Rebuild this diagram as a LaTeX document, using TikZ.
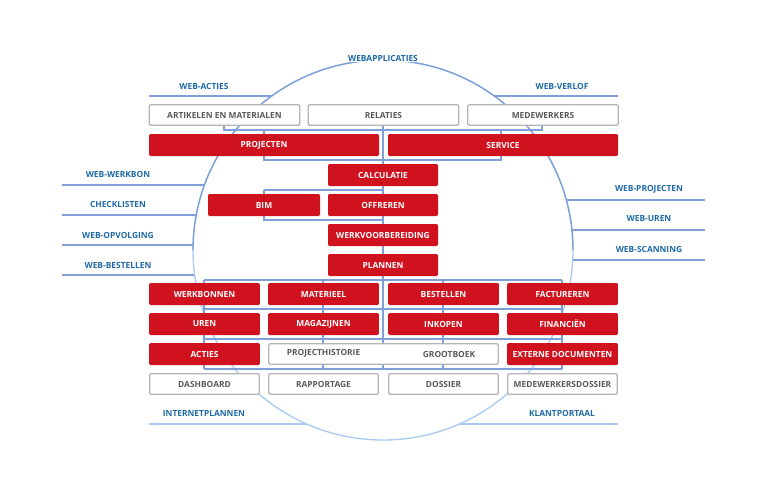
\documentclass[tikz,border=0pt]{standalone}
\usepackage{fontspec}
\setmainfont{Open Sans}
\begin{document}
\definecolor{rd}{HTML}{D0121F}
\definecolor{gb}{HTML}{B5B5B5}
\definecolor{gt}{HTML}{5A5A5A}
\definecolor{bl}{HTML}{1F6AA5}
\definecolor{ln}{HTML}{7F9FD8}
\definecolor{ll}{HTML}{A9CBEF}
\begin{tikzpicture}[x=0.75pt,y=-0.75pt,
  font=\fontsize{6.3}{7}\selectfont\bfseries,
  red/.style={fill=rd,text=white,rounded corners=1pt,minimum height=16.5pt,inner sep=0pt},
  gray/.style={draw=gb,line width=0.9pt,fill=white,text=gt,rounded corners=1pt,minimum height=15.5pt,inner sep=0pt},
  lab/.style={text=bl,inner sep=1pt},
  tree/.style={draw=ln,line width=0.8pt},
  side/.style={draw=ln,line width=0.9pt}]
\useasboundingbox (0,0) rectangle (767,496);
% circle
\draw[ll,line width=1pt] (383,250) circle (190);
\draw[ln,line width=1pt] (193,250) arc (180:360:190);
% side lines
\draw[side] (149,96) -- (272,96);
\draw[side] (494,96) -- (618,96);
\draw[side] (62,185) -- (205,185);
\draw[side] (62,215) -- (196,215);
\draw[side] (62,245) -- (193,245);
\draw[side] (62,275) -- (194,275);
\draw[side] (566,200) -- (705,200);
\draw[side] (571,230) -- (705,230);
\draw[side] (573,260) -- (705,260);
\draw[ll,line width=1pt] (149,424) -- (307,424);
\draw[ll,line width=1pt] (459,424) -- (618,424);
% tree
\draw[tree] (383,126) -- (383,369);
\draw[tree] (224,126) -- (224,130) -- (542,130) -- (542,126);
\draw[tree] (264,130) -- (264,160) -- (501,160) -- (501,130);
\draw[tree] (264,190) -- (383,190);
\draw[tree] (264,190) -- (264,220) -- (383,220);
\foreach \y in {280,309,339,369} \draw[tree] (204,\y) -- (562,\y);
\foreach \x in {204,323,443,562} \draw[tree] (\x,280) -- (\x,369);
% labels
\node[lab,fill=white] (wa) at (383,58) {WEBAPPLICATIES};
\node[lab] (l1) at (204,86) {WEB-ACTIES};
\node[lab] (l2) at (562,86) {WEB-VERLOF};
\node[lab] (l3) at (118,174) {WEB-WERKBON};
\node[lab] (l4) at (118,204) {CHECKLISTEN};
\node[lab] (l5) at (118,235) {WEB-OPVOLGING};
\node[lab] (l6) at (118,265) {WEB-BESTELLEN};
\node[lab] (l7) at (649,189) {WEB-PROJECTEN};
\node[lab] (l8) at (649,219) {WEB-UREN};
\node[lab] (l9) at (649,249) {WEB-SCANNING};
\node[lab] (l10) at (204,413) {INTERNETPLANNEN};
\node[lab] (l11) at (562,413) {KLANTPORTAAL};
% boxes
\node[gray,minimum width=113pt] (am) at (224.5,115) {ARTIKELEN EN MATERIALEN};
\node[gray,minimum width=113pt] (re) at (383.5,115) {RELATIES};
\node[gray,minimum width=113pt] (me) at (543,115) {MEDEWERKERS};
\node[red,minimum width=172.5pt] (pr) at (264,145) {PROJECTEN};
\node[red,minimum width=172.5pt] (se) at (503,145) {SERVICE};
\node[red,minimum width=82.5pt] (ca) at (383,175) {CALCULATIE};
\node[red,minimum width=84pt] (bim) at (264,205) {BIM};
\node[red,minimum width=82.5pt] (of) at (383,205) {OFFREREN};
\node[red,minimum width=82.5pt] (wv) at (383,235) {WERKVOORBEREIDING};
\node[red,minimum width=82.5pt] (pl) at (383,265) {PLANNEN};
\node[red,minimum width=83pt] (wb) at (204.5,294) {WERKBONNEN};
\node[red,minimum width=83pt] (ma) at (323.5,294) {MATERIEEL};
\node[red,minimum width=83pt] (be) at (443.5,294) {BESTELLEN};
\node[red,minimum width=83pt] (fa) at (562.5,294) {FACTUREREN};
\node[red,minimum width=83pt] (ur) at (204.5,324) {UREN};
\node[red,minimum width=83pt] (mg) at (323.5,324) {MAGAZIJNEN};
\node[red,minimum width=83pt] (ik) at (443.5,324) {INKOPEN};
\node[red,minimum width=83pt] (fi) at (562.5,324) {FINANCIËN};
\node[red,minimum width=83pt] (ac) at (204.5,354) {ACTIES};
\node[gray,minimum width=172pt] (pg) at (383.5,354) {};
\node[text=gt] (ph) at (323.5,353) {PROJECTHISTORIE};
\node[text=gt] (gr) at (449,354) {GROOTBOEK};
\node[red,minimum width=83pt] (ed) at (562.5,354) {EXTERNE DOCUMENTEN};
\node[gray,minimum width=82pt] (da) at (204.5,384) {DASHBOARD};
\node[gray,minimum width=82pt] (ra) at (323.5,384) {RAPPORTAGE};
\node[gray,minimum width=82pt] (do) at (443.5,384) {DOSSIER};
\node[gray,minimum width=82pt] (md) at (562.5,384) {MEDEWERKERSDOSSIER};
\end{tikzpicture}
\end{document}
